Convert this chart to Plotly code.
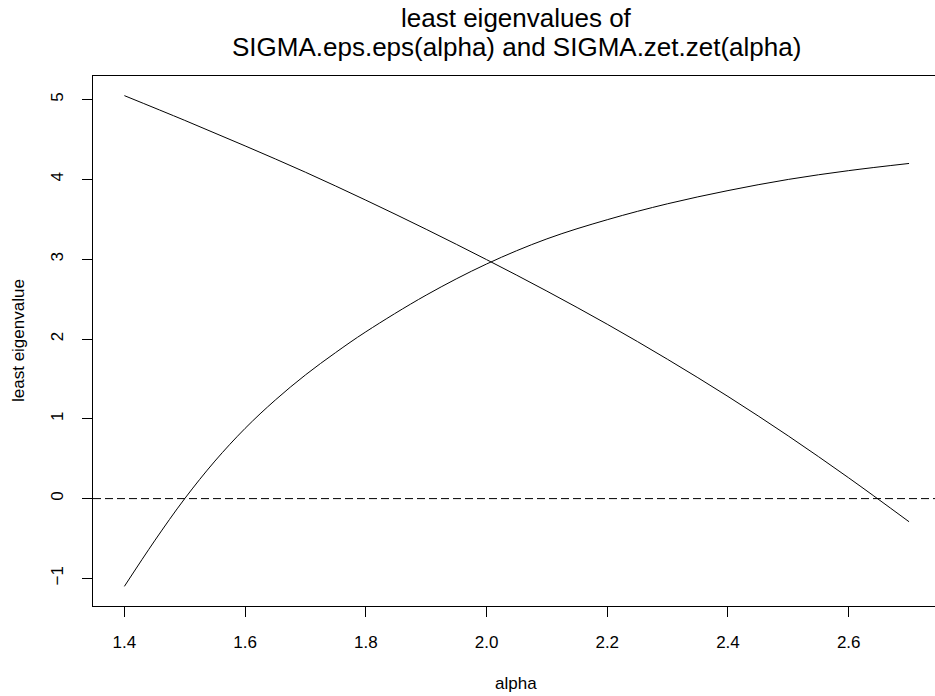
import plotly.graph_objects as go

alpha_eps = [1.4, 1.5, 1.6, 1.7, 1.8, 1.9, 2.0, 2.1, 2.2, 2.3, 2.4, 2.5, 2.6, 2.7]
eig_eps = [5.05, 4.74, 4.42, 4.09, 3.74, 3.375, 2.995, 2.60, 2.185, 1.745, 1.28, 0.785, 0.26, -0.29]
alpha_zet = [1.4, 1.45, 1.5, 1.55, 1.6, 1.65, 1.7, 1.75, 1.8, 1.9, 2.0, 2.1, 2.2, 2.3, 2.4, 2.5, 2.6, 2.7]
eig_zet = [-1.10, -0.53, 0.00, 0.47, 0.88, 1.235, 1.55, 1.83, 2.09, 2.55, 2.94, 3.255, 3.495, 3.695, 3.86, 4.00, 4.11, 4.20]
ref_level = 0
x_ticks = [1.4, 1.6, 1.8, 2.0, 2.2, 2.4, 2.6]
x_ticklabels = ["1.4", "1.6", "1.8", "2.0", "2.2", "2.4", "2.6"]
y_ticks = [-1, 0, 1, 2, 3, 4, 5]
y_ticklabels = ["\u22121", "0", "1", "2", "3", "4", "5"]
title_lines = ["least eigenvalues of", "SIGMA.eps.eps(alpha) and SIGMA.zet.zet(alpha)"]
x_title = "alpha"
y_title = "least eigenvalue"

FONT = "Liberation Sans, Arial, Helvetica, sans-serif"

fig = go.Figure()
fig.add_trace(go.Scatter(x=alpha_eps, y=eig_eps, mode="lines",
                         line=dict(color="black", width=1, shape="spline", smoothing=1.0),
                         showlegend=False, hoverinfo="skip"))
fig.add_trace(go.Scatter(x=alpha_zet, y=eig_zet, mode="lines",
                         line=dict(color="black", width=1, shape="spline", smoothing=1.0),
                         showlegend=False, hoverinfo="skip"))

fig.add_shape(type="line", xref="paper", x0=0, x1=1, yref="y", y0=ref_level, y1=ref_level,
              line=dict(color="black", width=1, dash="8px,4px"))

W, H = 935, 696
l, r, t, b = 93, 0, 76, 90
pw, ph = W - l - r, H - t - b
def px(xp):
    return (xp - l) / pw
def py(yp):
    return (H - b - yp) / ph

fig.update_layout(
    width=W, height=H,
    margin=dict(l=l, r=r, t=t, b=b),
    paper_bgcolor="white", plot_bgcolor="white",
    font=dict(family=FONT, size=17, color="black"),
    xaxis=dict(range=[1.348, 2.743], tickvals=x_ticks, ticktext=x_ticklabels,
               showgrid=False, zeroline=False, showline=True, linecolor="black", linewidth=1,
               mirror=True, ticks="outside", ticklen=10, tickcolor="black", tickwidth=1,
               ticklabelstandoff=11),
    yaxis=dict(range=[-1.346, 5.296], tickvals=y_ticks, ticktext=y_ticklabels,
               showgrid=False, zeroline=False, showline=True, linecolor="black", linewidth=1,
               ticks="outside", ticklen=10, tickcolor="black", tickwidth=1, tickangle=-90,
               ticklabelstandoff=12),
    annotations=[
        dict(text=title_lines[0], xref="paper", yref="paper", x=px(516), y=py(18),
             xanchor="center", yanchor="middle", showarrow=False, font=dict(size=26)),
        dict(text=title_lines[1], xref="paper", yref="paper", x=px(516), y=py(47),
             xanchor="center", yanchor="middle", showarrow=False, font=dict(size=26)),
        dict(text=x_title, xref="paper", yref="paper", x=px(516), y=py(683),
             xanchor="center", yanchor="middle", showarrow=False, font=dict(size=17)),
        dict(text=y_title, xref="paper", yref="paper", x=px(18), y=py(341),
             xanchor="center", yanchor="middle", showarrow=False, font=dict(size=17),
             textangle=-90),
    ],
)

fig.write_html("out.html")
